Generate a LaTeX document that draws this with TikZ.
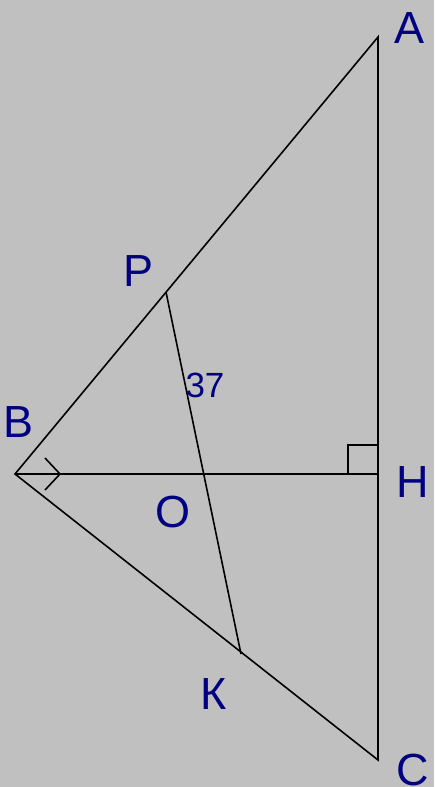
\documentclass[tikz,border=0pt]{standalone}
\usepackage{fontspec}
\setmainfont{Liberation Sans}
\definecolor{lbl}{RGB}{0,0,128}
\definecolor{bg}{RGB}{192,192,192}
\begin{document}
\begin{tikzpicture}[x=1pt,y=-1pt,
  seg/.style={line width=1.6pt,black},
  lab/.style={text=lbl,inner sep=0pt,font=\fontsize{45}{45}\selectfont},
  num/.style={text=lbl,inner sep=0pt,font=\fontsize{35}{35}\selectfont}]
\fill[bg] (0,0) rectangle (434,787);
\useasboundingbox (0,0) rectangle (434,787);
\coordinate (A) at (378,37);
\coordinate (B) at (15,474);
\coordinate (C) at (378,760);
\coordinate (H) at (378,474);
\coordinate (P) at (166,292);
\coordinate (K) at (241,654);
\draw[seg] (A) -- (B) -- (C) -- cycle;
\draw[seg] (B) -- (H);
\draw[seg] (P) -- (K);
\draw[seg] (348,474) -- (348,445) -- (378,445);
\draw[seg] (45,458) -- (60,474) -- (45,490);
\node[lab] (lA) at (410,28) {A};
\node[lab] (lP) at (139,271) {P};
\node[lab] (lB) at (19,422) {B};
\node[lab] (lH) at (413,482) {H};
\node[lab] (lO) at (173,512) {O};
\node[lab] (lK) at (214,694) {К};
\node[lab] (lC) at (413,770) {C};
\node[num] (l37) at (205,385) {37};
\end{tikzpicture}
\end{document}
